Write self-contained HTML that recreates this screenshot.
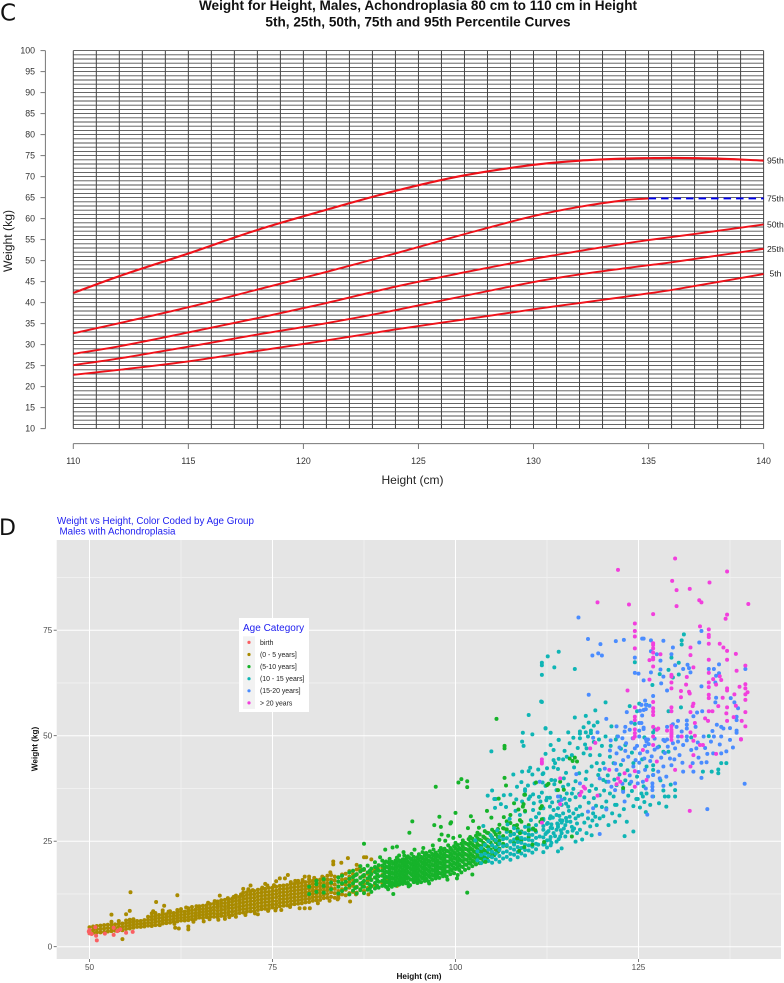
<!DOCTYPE html>
<html lang="en">
<head>
<meta charset="utf-8">
<title>Weight for Height Charts</title>
<style>
html,body{margin:0;padding:0;background:#fff;width:784px;height:983px;overflow:hidden}
svg{display:block;font-family:"Liberation Sans",sans-serif}
</style>
</head>
<body>
<svg id="figure" xmlns="http://www.w3.org/2000/svg" width="784" height="983" viewBox="0 0 784 983">
  <text x="0" y="20.5" font-family="DejaVu Sans" font-size="23" fill="#111">C</text>
  <text x="-1" y="535" font-family="DejaVu Sans" font-size="22" fill="#111">D</text>
  <text x="418" y="10" text-anchor="middle" font-weight="bold" font-size="13.6" fill="#111">Weight for Height, Males, Achondroplasia 80 cm to 110 cm in Height</text>
  <text x="418" y="26.5" text-anchor="middle" font-weight="bold" font-size="13.6" fill="#111">5th, 25th, 50th, 75th and 95th Percentile Curves</text>
  <text transform="translate(12,241) rotate(-90)" text-anchor="middle" font-size="12.2" fill="#222">Weight (kg)</text>
  <text x="412.5" y="484" text-anchor="middle" font-size="12" fill="#222">Height (cm)</text>
  <g id="chartC"></g>
  <text x="57" y="524" font-size="9.8" fill="#2020f0">Weight vs Height, Color Coded by Age Group</text>
  <text x="59.5" y="534.5" font-size="9.8" fill="#2020f0">Males with Achondroplasia</text>
  <g id="chartD"></g>
  <text x="419" y="979" text-anchor="middle" font-weight="bold" font-size="8.2" fill="#111">Height (cm)</text>
  <text transform="translate(37.5,749) rotate(-90)" text-anchor="middle" font-weight="bold" font-size="8.2" fill="#111">Weight (kg)</text>
</svg>
<script>
/* ---------- Chart C data ---------- */
var curveHeights = [110,112,115,118,121,124,127,130,132,134,135,136,138,140];
var p95 = [42.3,46.3,51.7,57.3,62.1,66.6,70.3,72.8,73.8,74.3,74.4,74.45,74.3,73.8];
var p75 = [32.7,35.1,38.9,43.1,47.3,51.7,56.3,60.6,62.8,64.4,64.8];
var p50 = [27.8,29.6,32.9,36.3,39.9,43.8,47.2,50.4,52.3,54.1,54.9,55.6,57.1,58.6];
var p25 = [25.1,26.7,29.5,32.4,35.1,38.2,41.6,44.9,46.7,48.2,48.9,49.6,51.2,52.8];
var p5  = [22.8,24.0,26.0,28.5,31.0,33.6,36.0,38.4,39.9,41.4,42.2,43.0,44.9,46.8];
var p75ExtensionHeights = [135,140];
var p75ExtensionValues = [64.8,64.8];
var curveLabels = ["95th","75th","50th","25th","5th"];
var curveLabelValues = [73.8,64.8,58.6,52.8,46.8];
var cXTicks = [110,115,120,125,130,135,140];
var cYTicks = [10,15,20,25,30,35,40,45,50,55,60,65,70,75,80,85,90,95,100];

/* ---------- Chart D data: [height, weight] pairs, columns are [height, weight, weight, ...] ---------- */
var dXTicks = [50,75,100,125];
var dYTicks = [0,25,50,75];
var dXMinor = [62.5,87.5,112.5,137.5];
var dYMinor = [12.5,37.5,62.5,87.5];
var legendLabels = ["birth","(0 - 5 years]","(5-10 years]","(10 - 15 years]","(15-20 years]","> 20 years"];

var brownColumns = [
[50,3.2,3.9,4.6],[50.5,3.3,4,4.8],[51,3.4,4.1,4.9],[51.5,3.4,4.2,5],[52,3.5,4.3,5.1],[52.5,3.6,4.4,5.2],[53,3.7,4.4,5.2,5.9],[53.5,3.8,4.5,5.3],
[54,3.9,4.7,5.4,6.1],[54.5,3.9,4.7,5.5],[55,4.2,4.9,5.6,6.2],[55.5,4.3,5,5.7,6.4],[56,4.5,5.2,5.9,6.5],[56.5,4.7,5.4,6.1],[57,4.7,5.4,6.1],[57.5,4.8,5.5,6.3],
[58,5,5.7,6.4,7.1],[58.5,4.9,5.6,6.4,7.1,7.9],[59,5.1,5.9,6.6,7.3,8],[59.5,5.2,6,6.8,7.5],[60,5.5,6.2,6.9,7.6,8.1],[60.5,5.6,6.3,7,7.7],[61,5.7,6.4,7.2,7.9,8.4],[61.5,5.9,6.6,7.3,8],
[62,6,6.7,7.4,8.1,8.7],[62.5,6.2,6.9,7.6,8.3,8.9],[63,6.2,6.9,7.6,8.3],[63.5,6.3,7,7.8,8.5,9.1],[64,6.5,7.2,7.9,8.6,9.4],[64.5,6.6,7.3,8,8.8],[65,6.9,7.6,8.3,9,9.6],[65.5,6.8,7.5,8.2,8.9,9.7],
[66,7,7.7,8.4,9.1,9.8],[66.5,7.1,7.8,8.5,9.2,10.1],[67,7.1,7.9,8.7,9.4,10.2],[67.5,7,7.7,8.5,9.3,10,10.7],[68,7.3,8,8.8,9.6,10.3,11],[68.5,7.2,8,8.8,9.5,10.3,11.1],
[69,7.6,8.3,9.1,9.8,10.5,11.2],[69.5,7.5,8.3,9.1,9.9,10.7,11.4],[70,7.8,8.5,9.3,10,10.8,11.5,12.1],[70.5,8,8.8,9.5,10.3,11,11.8],[71,8.1,8.9,9.7,10.5,11.3,12,12.8],[71.5,8.3,9,9.8,10.6,11.4,12.2,12.9],
[72,8.4,9.2,10,10.8,11.6,12.4,13.1],[72.5,8.4,9.2,10,10.8,11.6,12.4,13.2],[73,8.7,9.5,10.3,11.1,11.9,12.7,13.5],[73.5,8.9,9.6,10.4,11.2,12,12.8,13.6],[74,9,9.8,10.6,11.4,12.2,13,13.7],[74.5,9,9.8,10.6,11.4,12.2,13,13.9],
[75,9.3,10,10.8,11.6,12.4,13.2,14],[75.5,9.2,10,10.8,11.7,12.5,13.3,14.2],[76,9.6,10.4,11.2,12,12.8,13.6,14.4],[76.5,9.7,10.5,11.3,12.1,12.9,13.7,14.5],[77,9.8,10.6,11.4,12.2,13,13.8,14.6],[77.5,10,10.8,11.6,12.4,13.2,14,14.8,15.3],
[78,10.1,10.9,11.7,12.5,13.3,14.1,14.9],[78.5,10.2,11,11.8,12.6,13.4,14.2,15,15.6],[79,10.3,11.1,11.9,12.7,13.5,14.3,15.1],[79.5,10.5,11.3,12.1,12.9,13.7,14.5,15.3],[80,10.6,11.4,12.2,13,13.8,14.6,15.4,16],
[80.5,10.9,11.7,12.5,13.3,14.1,14.9,15.6],[81,11,11.8,12.6,13.4,14.2,15,15.8],[81.5,11.1,11.9,12.7,13.5,14.3,15.1,15.9],[82,11.5,12.3,13.1,13.9,14.7,15.5,16.3],[82.5,11.6,12.5,13.4,14.2,15,15.9,16.8],
[83,11.8,12.9,13.9,14.9,15.9,17],[83.5,11.6,12.7,13.7,14.7,15.7,16.6],[84,12.1,13.2,14.3,15.4,16.5],[84.5,12.4,13.6,14.8,15.9,17.1],[85,12.2,13.5,14.7,16,17.3],[85.5,12.7,14,15.3,16.6,17.9],
[86,13,14.4,15.8,17.2],[86.5,12.8,14.2,15.6,17.1,18.3],[87,13.6,15,16.4,17.8],[87.5,13.2,14.9,16.6,18.2],[88,13.9,15.6,17.3],[88.5,14.3,15.9,17.7],[89,14.6,16.4,18.2],[90,15.1,17,18.7],[91,15.6,17.6]
];
var brownOutliers = [
[55.6,12.9],[62,12.2],[59.1,10.6],[60.2,9.7],[55.5,8.5],[53,7.6],[55,7.7],[54.5,1.8],[60,8.6],[61.7,4.5],[62.2,4.3],[63.5,4.8],[63.5,4.1],[65.6,6],
[67.8,12.1],[72,14.5],[71,13.7],[71.7,13.6],[74,14.9],[74.3,14.5],[77.1,17],[76.7,16.2],[76,16.2],[75.5,15.5],[78.3,15.4],[73,7.7],[76.2,8.7],[70,7.1],[68.5,6.6],
[83.3,20.2],[83.3,19.5],[84.4,19.9],[85.3,21],[87.5,21.2],[87.8,21.2],[88.5,20.7],[86.5,19.4],[86.9,18.6],[88.3,17.8],[89.4,18.6],[90.6,15.8],[92,14.4],[93.3,16.4],
[88.1,12.4],[86.4,12.4],[82.9,17.6],[79.4,16.6],[80,16.6],[79.4,9.1],[80.1,9.1],[78.7,9.1],[84,11.5],[85.6,10.7],
[58.7,8.4],[60.8,8.3],[63.2,9.3],[64.6,9.6],[66.2,10.4],[67.1,10.8],[68.9,11.5],[69.7,11.8],[70.7,12.4],[72.3,13.4],[73.6,14],[75.2,14.6],[78.1,15.6],[79.1,15.8],[80.7,16.3],[81.8,16.6],
[59.6,5.1],[61.6,5.4],[64.2,5.9],[66.4,6.5],[67.6,6.4],[69.1,7],[71.3,7.5],[72.6,7.9],[74.4,8.5],[75.4,8.6],[77.4,9.4],[81.2,10.3],[82.8,10.9],[83.9,11.2]
];
var birthPoints = [[50,4],[50,3.2],[49.9,3.6],[50.8,4.6],[50.3,3],[50.9,2.6],[51,1.5],[52.1,3.1],[53.3,4.5],[53.3,2.8],[53.8,3.7],[54.2,4.1],[55,3.3],[55.9,3.5]];

var greenColumns = [
[80,12.5,14.2],[81,13,14.8,15.6],[82,12.8,14.4,16],[83,13.6,15.2],[84,12.6,14.2,15.4,16.4],[84.5,13.2,15,16.8],[85,13.8,15.4],[85.5,12.4,14.5,16.1,17.6],[86,13.3,15,16.5,18],[86.5,12.6,14.1,15.7,17.2],
[87,13.4,14.9,16.3,17.9,19.1],[87.5,12.7,14.2,15.6,17,18.4],[88,13.5,15,16.2,17.6,19.2],[88.5,13,14.4,15.8,17.2,18.5],[89,13.8,15.1,16.4,17.7,18.9,20],[89.5,14,15.4,16.7,18,19.3],
[90,14.4,15.6,16.8,18,19.2,20.4],[90.5,14.2,15.4,16.6,17.8,19,20.2],[91,14.6,15.8,17,18.2,19.4,20.8],[91.5,14.9,16.1,17.3,18.5,19.7],[92,15.1,16.3,17.5,18.7,19.9,21.1],[92.5,15.3,16.5,17.7,18.9,20.1],
[93,15.5,16.7,17.9,19.1,20.3,21.6],[93.5,15.2,16.5,17.8,19,20.2,21.4],[94,15.9,17,18.2,19.4,20.6,22],[94.5,15.7,16.9,18.1,19.3,20.5],[95,15.8,17,18.2,19.4,20.6,21.9],[95.5,16.2,17.4,18.6,19.8,21,22.4],
[96,16.1,17.3,18.5,19.7,20.9,22.2],[96.5,16.5,17.7,18.9,20.1,21.3,22.6],[97,16.8,18,19.2,20.4,21.6,23],[97.5,16.9,18.1,19.3,20.5,21.8],[98,17.3,18.5,19.7,20.9,22.1,23.4],[98.5,17.2,18.4,19.6,20.8,22,23.2],
[99,17.8,19,20.2,21.4,22.6,24],[99.5,18.1,19.3,20.5,21.7,22.9],[100,18.4,19.6,20.8,22,23.3,24.6],[100.5,18.2,19.5,20.8,22.1,23.4],[101,18.9,20.1,21.3,22.5,23.8,25.2],[101.5,19.4,20.6,21.8,23.1,24.4],
[102,19.7,20.9,22.1,23.4,24.7,26],[102.5,20.1,21.3,22.6,23.9,25.2],[103,20.4,21.7,23,24.3,25.7,27],[103.5,20.9,22.4,23.8,25.2],[104,21.1,22.7,24.3,25.8,27.4],[104.5,21.9,23.6,25.2,26.9],
[105,22.3,24.1,25.9,27.7],[105.5,23,24.8,26.6],[106,23.2,25.1,27,28.9],[106.5,24.4,26.2,28.1],[107,23.9,25.7,27.6,29.7],[107.5,25,27.2,29.3],[108,24.6,26.7,28.6],[108.5,25.5,27.9],[109,25.1,27.3,29.6],[110,26,28.8]
];
var greenStaggerColumns = [
[86.3,13.9,15.6,16.9],[87.3,14.2,15.2,16.7,18.2],[88.3,13.8,14.7,16.6,18],[89.3,14.4,15.8,17.1,18.4],[90.3,14.9,16.1,17.4,18.6,19.8],[90.8,13.6,15.2,16.4,17.6,18.8,20],[91.3,14.2,15.2,16.4,17.6,18.8,20.1],[91.8,14.5,15.6,16.8,18,19.2,20.4],
[92.3,14.7,15.8,17,18.1,19.3,20.5,21.6],[92.8,14.9,16,17.2,18.3,19.6,20.7],[93.3,15,16.1,17.3,18.5,19.7,20.9],[93.8,14.6,16,17.4,18.6,19.8,21],[94.3,15.3,16.4,17.6,18.8,20,21.3],[94.8,15.1,16.3,17.5,18.7,19.9,21.2],
[95.3,15.3,16.6,17.8,19,20.2,21.3],[95.8,15.6,16.8,18,19.2,20.4,21.7],[96.3,15.5,16.9,18.1,19.3,20.4,21.6],[96.8,15.9,17.1,18.3,19.5,20.8,22],[97.3,16.2,17.4,18.6,19.9,21.1,22.3],[97.8,16.3,17.5,18.8,20,21.3,22.7],
[98.3,16.7,17.9,19.1,20.3,21.5,22.8],[98.8,16.6,17.8,19,20.2,21.5,22.7],[99.3,17.2,18.4,19.6,20.9,22.1,23.4],[99.8,17.4,18.7,19.9,21.1,22.4,23.8],[100.3,17,18.9,20.2,21.5,22.8,24.1],[100.8,17.6,19,20.4,21.7,23,24.4],
[101.3,18.2,19.5,20.7,22,23.2,24.6],[101.8,18.6,20,21.4,22.7,24.1,25.5],[102.3,19.1,20.4,21.7,23,24.3,25.6],[102.8,19.5,20.9,22.3,23.6,25,26.3],[103.3,19.8,21.2,22.6,23.9,25.3,26.6],[103.8,20.2,21.6,23.1,24.6,26.1],
[104.3,20.8,22.3,23.8,25.4,27],[104.8,21.4,23,24.7,26.4],[105.3,21.7,23.5,25.3,27.2],[105.8,22.5,24.2,26,27.9]
];
var greenOutliers = [
[105.6,54],[106.7,47.6],[106.7,47],[100.8,39.7],[100.4,38.9],[101.6,39.2],[101.6,37.8],[97.3,37.9],[106.7,40],[106.9,38.2],[111,38.9],[112.7,38.6],[112.5,38.3],[109.5,36],[114,37.1],[105.9,35.1],
[87.5,24.4],[94.1,29.7],[93.7,27],[90.4,23],[91.4,23.5],[92,23.7],[100,31.7],[99.3,29.2],[99.4,29.5],[97.8,30.8],[98,28.4],[97.1,28.8],[102.1,30.9],[102.4,29.8],[101.7,28.1],
[98.1,26.6],[99,26.3],[99.7,25.8],[97.8,25.3],[104.3,32.2],[104.9,30.6],[108,34],[109.4,36],[108.6,32.5],[101.6,12.8],[91.5,12.5],[100.2,16.2],[102.3,17.1],
[115.6,44.6],[116,44],[116.3,44.8],[116.6,43.9],[111.6,32.8],[111.8,33.3],[109.3,33.8],[109.2,33.2],[109.5,32.2],[107.5,31.2],[106.6,30.7],[111.8,30.2],[111.6,29.6],[108.8,30],[108.4,28.8],[107,27.8],
[106.6,28],[108.8,26.9],[108.4,25.7],[110.6,28],[110.9,27.6],[110,27.6],[115.9,26.1],[114.3,39.1],[122.9,37.6],[114.8,37.2],[112.1,24.8],[110.5,24.2],[109.4,23.6],[108.7,22.7],
[95.6,23.4],[96.9,24],[92.9,22.4],[89.7,21.2],[94.4,23],[98.6,25.1],[100.6,26.2],[103.2,28.2],[90.7,14],[93.6,14.3],[96.4,15],[98.9,15.9],[104.1,20.1]
];

var tealColumns = [
[103,20.5,22.6],[103.5,19.8,21.7,23.4],[104,20.6,22,24.1],[104.5,20.3,21.6,23,25],[105,19.9,21.2,22.5,24,25.7],[105.5,20.7,22.1,23.6,25.2],[106,20.1,21.5,22.9,24.4,26],[106.5,20.9,22.3,23.8,25.5],
[107,21.3,22.6,24.1,25.7,27.2],[107.5,20.6,22,23.4,24.9,26.4],[108,21.8,23,24.2,25.4,26.7,28.1],[108.5,21.2,22.4,23.6,24.8,26,27.4],[109,22.1,23.4,24.6,25.8,27.1],[109.5,21.6,22.9,24.2,25.5,26.9,28.4],
[110,22.8,24,25.3,26.6,28.2],[110.5,22.3,23.7,25.1,26.5,27.8],[111,23.1,24.4,25.8,27.2,28.8],[112,22.4,24.2,25.9,28.6,30.3],[112.5,23.5,25.2,27.1,29.1],[113,24,26,28.2,30.9],[114,22.6,28.9,32.8],[114.5,23.3,29.4,33.6]
];
var tealPoints = [
[131.2,74],[130.9,72.6],[130.9,71.6],[114.1,69.9],[112.6,68.8],[111.8,67.3],[111.8,66.7],[113.5,66.2],[116.3,65.8],[111.8,64.4],[124.5,67.4],[129.5,68.5],[130.5,67.3],[129.1,65.6],[127.9,64.6],[130.5,64.5],[129.7,63.8],[126.9,62],
[111.8,58],[120.5,57.9],[110,54.9],[119.1,56],[116.3,54.3],[117.8,54.7],[123.8,57],[125.1,57.6],[124.8,55.8],[129.1,55.8],[130.8,56.7],[126.1,57.3],[124.5,52.8],[112.3,51.8],[118.2,53.1],[119.4,53.2],[118.9,52.4],[117.5,52],
[109.2,50.7],[110.5,50.3],[113,50.7],[115.4,50.8],[117,51],[117,50.5],[117.8,50.8],[118.5,51.2],[118.5,50.6],[121.3,52.2],[127.2,51.5],[127,50.8],[116.1,49.5],[117,49.4],[114.1,49],[120.5,49.8],[121.9,49.1],[125.8,49.6],[132.2,49.6],[134.6,49.9],
[111.7,58.1],[112.3,51.7],[109.1,48.6],[109.3,47.6],[114.1,49],[113,47.8],[104.9,46.3],[112.3,45.7],[113.4,44.2],[113.6,43.5],[114.1,44.5],[110.2,42.4],[110,41.6],[109.1,41.5],[111.3,42],[113.4,42.5],[114,42.1],[107.9,40.8],[110.5,40.8],[111.9,40.9],
[109,39],[113.1,39.5],[113.6,39.4],[109.5,37.3],[109.5,36.9],[107.5,36],[105,37],[104.4,35.8],[105.3,35],[105.5,35],[111.8,36.5],[110.6,36.1],[110.2,35.6],[110,35],[111.4,35.5],[112.5,35.3],[112.9,35.3],[112.3,38.1],[113.5,38.5],
[117.5,45.8],[115.9,45.4],[115.2,45],[114.7,44.4],[112.5,42.3],[112,41.1],[119.7,41.9],[119.5,40.7],[120.2,39.5],[120.6,39.1],[117.9,41.5],[118.6,42.7],[119.3,43.5],[120.2,43.5],[121.6,43.5],[117.9,47],[118.4,45.4],[119.7,45.4],[121.1,45],
[113.8,37.1],[114.7,37.9],[115.2,36.3],[114.3,35.6],[115.9,36.3],[115.6,34.8],[114.1,34.4],[112.9,33.2],[112,32.8],[113.4,32.4],[115.4,33.2],[117,33.2],[116.1,31.6],[114.7,31.6],[113.8,31.2],[112.9,30.4],[112,30],[110.6,32.4],[109.5,32],[108.8,31.2],
[115.6,30.8],[116.6,29.2],[115.9,28.4],[115,28.8],[114.3,30],[113.8,27.7],[114.5,26.9],[113.4,26.9],[112,27.7],[111.5,26.1],[112.9,25.3],[113.8,24.9],[114.3,26.1],[117,27.7],[117.9,26.9],[119.1,30.8],[119.7,30.4],[120.9,28.8],[119.3,28.8],[118.1,30.4],[118.8,31.6],[120.6,32.8],[122,33.6],[123.1,26.2],[124.3,27.3],
[124.3,33.3],[124.7,35],[120.6,34.4],[121.8,33.6],[121.6,35.6],[119.7,35.9],[121.1,36.3],[122,38.3],[122.9,37.1],[125.4,36.3],[126.1,36.3],[124.9,35],[128.4,37],[129.1,35.6],[130,35.6],[130,37.1],[128.6,35.6],[125.6,35.6],[127,35.6],
[133.8,41.5],[135,41.5],[135.9,42],[136.3,43.5],[137,43.5],[135.9,41.1],[127,41.9],[127,40.7],[127,43],[124.3,43.5],[126.1,42.7],[128.4,46.2],
[115.1,33.9],[114.9,35.1],[116.4,35.4],[116.8,31],[115.2,29.7],[114.6,29.9],[116,27.5],[116.6,26.9],[113.1,29],[113.9,29.2],[111.4,31.6],[111,30.7],[110.3,30],[105.7,27.6],[107.1,29],[104.8,26.4],[103.8,28.6],[102.7,25.2],[111.3,24.2],
[112.3,26.7],[112.7,27.4],[113.2,28.1],[113.6,26.2],[114,28.4],[114.4,27.6],[114.8,28],[115.3,27.2],[115.7,29.6],[116.2,28],[116.4,30.4],[115,26.1],[114.1,25.5],[113.1,24.6],[112.2,24.3],[112.6,29.3],[113.3,30.6],[114.2,31],[115.1,30.5],[115.5,32.2],[116.5,32.6],[117.3,31.3],[117.6,29.4],[118.4,28.5],[118.7,29.9],[119.2,33.4],[118.2,34.1],[117.6,35.4],[116.9,36.2],[116.1,37.4],[115.4,38.4],[116.4,39.2],[117.8,39.7],[118.6,38.2],[119.2,37.4],[120.3,37],[120.8,40.6],[121.7,39.6],[122.4,40.8],[123.2,39.4],[123.8,38.6],[124.1,36.9],[123.6,35.8],[123,32.6],[122.4,31.1],[121.4,31.6],[120.2,30.9],[121.8,29.6],
[125.8,34.3],[126.6,33.6],[127.8,34],[128.8,33.2],[129.4,38.4],[128,39.4],[125.2,33],[126,31.9],[123.4,29.6],[121.2,47.6],[122.6,46.9],[123.2,47.8],[124.1,46],[125.5,44.4],[127.8,47.4],[129.1,46.2],[120,47.6],[118.9,48.5],[116.7,47.1],[115.6,48.2],[114.9,46.4],[113.4,46.6],[122.1,49.8],[119.6,49.1],[118.1,49.8],[117.7,47.9],
[109.9,38.2],[110.8,38.7],[111.9,38.9],[108.4,37.9],[106.6,35.9],[106.2,33.8],[105.4,32.9],[106.9,33.1],[108.3,34.9],[109.1,34.4],[110.7,34],[111.6,34.4],[112.4,34.7],[113.2,34.2],[107.4,30.3],[108.2,32.2],[115.1,41.2],[116.2,42.5],[116.9,41.1],[114.8,39.9],[118.3,36.9],[118.9,35.2],[120,33.1],[123.5,41.8],[124.8,40.3],[125.7,38],[122.6,43.1],[116.4,24.9],[117.3,25.4],[118.6,26.4]
];

var bluePoints = [
[116.8,78],[133.6,74.8],[118.1,72.9],[121.9,72.4],[123,72.7],[125.5,73],[125.7,73],[126.7,72.6],[128.4,72.5],[133.3,72.1],[119.8,71.7],[129.7,70.9],[119.5,69.5],[118.7,69],[120,69],[126.7,70],[127.5,69.3],[129.5,69.3],[124.5,68.5],[128,67.8],
[136,66.9],[130,66.7],[131.7,66.8],[128,65.7],[131.1,65.8],[131.9,66],[132.1,65],[134.6,65.8],[135.3,65.8],[139.6,65.8],[126.7,65],[124.5,64.9],[125,64.7],[136,64.8],[135.6,64.2],[128.4,64],[125.7,63.1],[128.1,62.4],[135.5,62.6],[133.6,61.7],[128.9,60.7],[127,59.4],[118.2,59.7],
[135.6,59],[125.9,58.3],[137.6,58.9],[135.5,57.9],[138.1,57.9],[125.4,57.3],[126,57.3],[126.5,57.1],[138.6,56.5],[126,56.3],[125.7,56.1],[125.2,55.9],[123.4,55.6],[133.7,55.8],[133,55.5],[125.5,54.8],[132.5,54.6],[120.6,54],[138.4,54.5],[138.4,53.7],
[125.1,53],[125.4,53],[130.4,53.5],[131.6,53.6],[131.6,52.6],[124,53.1],[135.7,52.6],[136.3,52.1],[136.6,51.7],[125.7,51.9],[125.7,51.6],[122,52.2],[123.2,52.1],[123.8,51.4],[123.1,51],[125.1,51.2],[129.5,52.4],[128.9,52.1],[129.7,52.7],[130.2,52.1],[131.6,51.7],[132.8,52.1],[119.4,50.8],[137.5,51.8],[138.4,51.2],[138.4,50.7],[130.9,51],[135.1,51.1],
[118.8,49.5],[122.2,49.8],[122.8,49.4],[124.2,49.4],[125.1,49.8],[126,49.2],[126.3,49.1],[127.2,49.3],[128.4,49],[128.9,49.1],[130.4,49.8],[131.6,49.8],[133.9,49.8],[135.3,49.8],[136.3,49.8],[137.5,49],
[139.5,38.6],[134.4,32.6],[126.2,31.3],[119.7,26.7],[136.3,45.8],[137.9,47.2],[135.2,45.8],[134.4,45.7],[133.6,43.6],[133.6,40],[132.5,41.5],[131.1,41.5],[130.6,45.4],[131.1,47.8],[132.2,46.6],[129.3,44.6],[129.5,43],[128.4,42.7],[127.7,41.5],[128.8,40.3],[130,38.7],[128.4,38.1],
[126.9,37.9],[126.9,37.1],[126.9,38.7],[126.9,35.6],[126.3,40.3],[127,40.7],[125.9,41.9],[125.6,39.1],[124.9,38.7],[124.3,42.7],[123.6,45],[122.9,44.2],[122,45.8],[121.1,46.5],[126.1,48.6],[125.2,45.8],[124.5,47],[126.4,48],[125.9,47.6],[121.8,43.4],[122,41.9],[119.7,39.9],[120.9,39.1],[121.8,37.1],[122.9,36.7],[121.3,37.9],
[114,35.6],[114.5,34.8],[117,38.7],[123.1,34.4],[120.6,32.5],[118.8,32.8],[118.1,32],[111.5,39.1],[116.5,40.9],[133.1,48.4],[134.1,47.1],[129,47.4],[127.6,47.2],[129.7,48.2],[130.4,48.6],[126.8,45.1],[128.1,44.8],[124.6,44.2],
[121.2,48.9],[123.3,48.2],[124.8,47.6],[126.2,46.2],[127.2,46.7],[128.6,48.7],[130,47],[131.6,48.9],[132.9,47],[134.9,48.6],[136.1,47.9],[137,46.3],[125.1,43.6],[125.8,44.6],[126.6,44],[128.6,45.9],[129.9,44.4],[131,43.6],[132.4,43.5],[133.2,44.8],[134.3,43.7],[123.2,46.4],[122.4,47.2],[120.4,42.2],[123.8,40.6],[125,41.4],[122.8,38.6],[124,39.1],[126,37.5],[127.9,39.9]
];

var magentaPoints = [
[130,92],[122.2,89.3],[137.1,88.9],[129.6,86.7],[134.7,86.3],[130.2,84.5],[132,84.8],[133.3,82.1],[133.6,81.6],[119.4,81.6],[123.7,81.1],[140,81.2],[130.2,80.7],[127,78.8],[137.1,78.7],[136.9,77.7],[124.5,76.6],[133.4,75.9],[124.5,74.8],[134.6,75.2],[134.6,73.9],[134.6,73.4],[124.5,73.5],
[127,71.9],[127,71.5],[134.6,71.8],[136.1,71.8],[136.6,70.9],[137.1,70.1],[124.5,70.7],[127,70.7],[132.1,70.9],[127,69.7],[128,69.3],[132.1,69.1],[138.3,69.4],[127,68.5],[127,68.1],[126.5,67.9],[137.1,68],[134.6,68],[139.6,66.6],[127,66.4],[132.5,66.2],[138.4,65.4],[134.6,64.9],
[136.1,64.1],[136.3,63.2],[129.5,64.4],[129.5,64],[131.6,63.9],[126.5,63.3],[135.2,63.4],[129.5,62.6],[134.6,62.6],[135.6,62.1],[131.5,62.1],[139.6,62.2],[139.6,61.2],[138.8,61.6],[134.6,61.5],[129.5,61.2],[123.5,60.7],[137.1,61.2],[137.1,60.7],[130.8,60.6],[131.9,60.4],[132,60],[139.9,60.3],[139.6,59.8],[138.1,59.8],[134.6,59.7],[134.6,58.9],[136.5,59],[130.8,59.1],[139.6,58.5],
[127,58],[132.5,57.6],[132.4,57],[135.9,57],[138.3,57.1],[127,56.5],[127,55.7],[127,54.9],[124.5,56.7],[129.5,56.7],[129.5,55.8],[137.1,56.7],[134.6,55.8],[135.1,55.8],[132.1,55.6],[139.6,55.6],[137,55.3],[134.1,54.1],[134.5,53.5],[124.5,54.5],[124.5,53.7],[137.1,53.5],[139.1,53.5],[138,54.4],[132.7,53],[139.6,52.2],[127,52.1],
[127.7,51.7],[127.5,51.4],[129.5,52.2],[129.5,51.4],[129.5,50.6],[129.5,49.8],[124.5,51.5],[124.5,50.6],[124.5,49.8],[128.9,51.2],[132.1,50.8],[132.7,50],[139,49.2],[130.9,49.8],
[129.5,50.9],[129.5,50.2],[129.5,49],[127,49.8],[127,47.8],[124.3,49.4],[119.1,48.3],[118.4,47],[132.5,48.8],[133.4,47.8],[133.8,47.8],[135.6,45.7],[132.5,45.4],[139,49.1],[111.8,44.4],[111.8,43.8],[111.8,43.4],[125.6,46.6],[127.5,43.9],[130,41.9],[132.1,42.7],[124.5,41.6],[123.1,41.1],[121,41.9],[114.3,39.9],
[122.2,39.9],[122.5,39.1],[122,38.5],[124.5,37.9],[126.1,39.5],[117.5,37.9],[117.2,36.7],[117,35.9],[117.7,37.5],[119.4,35.8],[132,32.2],[111.8,29.4],[114.3,33.8]
];

/* ---------- helpers ---------- */
var NS = "http://www.w3.org/2000/svg";
function mk(tag, attrs, parent, text) {
  var el = document.createElementNS(NS, tag);
  for (var k in attrs) el.setAttribute(k, attrs[k]);
  if (text !== undefined) el.textContent = text;
  parent.appendChild(el);
  return el;
}
function smoothPath(pts) {
  var n = pts.length, i, slopes = [];
  for (i = 0; i < n; i++) {
    var a = pts[Math.max(i - 1, 0)], b = pts[Math.min(i + 1, n - 1)];
    slopes.push((b[1] - a[1]) / (b[0] - a[0]));
  }
  var d = "M" + pts[0][0].toFixed(2) + " " + pts[0][1].toFixed(2);
  for (i = 0; i < n - 1; i++) {
    var dxx = (pts[i + 1][0] - pts[i][0]) / 3;
    d += "C" + (pts[i][0] + dxx).toFixed(2) + " " + (pts[i][1] + slopes[i] * dxx).toFixed(2) + " " +
         (pts[i + 1][0] - dxx).toFixed(2) + " " + (pts[i + 1][1] - slopes[i + 1] * dxx).toFixed(2) + " " +
         pts[i + 1][0].toFixed(2) + " " + pts[i + 1][1].toFixed(2);
  }
  return d;
}

/* ---------- Chart C ---------- */
(function () {
  var root = document.getElementById("chartC");
  function cx(h) { return 73.3 + (h - 110) * 23.01; }
  function cy(w) { return 428.6 - (w - 10) * 4.2; }
  var hMin = 110, hMax = 140, wMin = 10, wMax = 100, w, h, el;
  for (w = wMin; w <= wMax; w++) {
    el = mk("line", {x1: cx(hMin), x2: cx(hMax), y1: cy(w), y2: cy(w), stroke: "#505050", "stroke-width": 0.9}, root);
    
    
  }
  for (h = hMin; h <= hMax; h++) {
    el = mk("line", {x1: cx(h), x2: cx(h), y1: cy(wMin), y2: cy(wMax), stroke: "#444", "stroke-width": 1}, root);
    
    
  }
  el = mk("line", {x1: 45.4, x2: 45.4, y1: cy(10), y2: cy(100), stroke: "#777", "stroke-width": 1}, root);
  
  
  cYTicks.forEach(function (t) {
    var tick = mk("line", {x1: 40.5, x2: 45.4, y1: cy(t), y2: cy(t), stroke: "#777", "stroke-width": 1}, root);
    
    
    var lab = mk("text", {x: 35, y: cy(t) + 3, "text-anchor": "end", "font-size": 8.8, fill: "#333"}, root, String(t));
    
    
  });
  el = mk("line", {x1: cx(110), x2: cx(140), y1: 443.6, y2: 443.6, stroke: "#777", "stroke-width": 1}, root);
  
  
  cXTicks.forEach(function (t) {
    var tick = mk("line", {x1: cx(t), x2: cx(t), y1: 443.6, y2: 449, stroke: "#777", "stroke-width": 1}, root);
    
    
    var lab = mk("text", {x: cx(t), y: 464, "text-anchor": "middle", "font-size": 8.8, fill: "#333"}, root, String(t));
    
    
  });
  [p95, p75, p50, p25, p5].forEach(function (series, i) {
    var pts = series.map(function (v, j) { return [cx(curveHeights[j]), cy(v)]; });
    var curve = mk("path", {d: smoothPath(pts), fill: "none", stroke: "#ee1119", "stroke-width": i === 0 ? 2.1 : 1.9}, root);
    
    
    var lab = mk("text", {x: i === 4 ? 769.5 : 767, y: cy(curveLabelValues[i]) + (i === 4 ? 2.5 : 3), "font-size": 8.6, fill: "#222"}, root, curveLabels[i]);
    
    
  });
  el = mk("line", {x1: cx(p75ExtensionHeights[0]), x2: cx(p75ExtensionHeights[1]), y1: cy(p75ExtensionValues[0]), y2: cy(p75ExtensionValues[1]), stroke: "#0000ee", "stroke-width": 1.9, "stroke-dasharray": "7.5 5"}, root);
  
  
})();

/* ---------- Chart D ---------- */
(function () {
  var root = document.getElementById("chartD");
  function dx(h) { return 89.5 + (h - 50) * 7.32; }
  function dy(w) { return 946.7 - w * 4.22; }
  var panelLeft = 56.7, panelRight = 781, panelTop = 540, panelBottom = 959;
  var el = mk("rect", {x: panelLeft, y: panelTop, width: panelRight - panelLeft, height: panelBottom - panelTop, fill: "#e5e5e5"}, root);
  
  
  dXMinor.forEach(function (t) {
    var g = mk("line", {x1: dx(t), x2: dx(t), y1: panelTop, y2: panelBottom, stroke: "#f1f1f1", "stroke-width": 0.8}, root);
    
    
  });
  dYMinor.forEach(function (t) {
    var g = mk("line", {x1: panelLeft, x2: panelRight, y1: dy(t), y2: dy(t), stroke: "#f1f1f1", "stroke-width": 0.8}, root);
    
    
  });
  dXTicks.forEach(function (t) {
    var g = mk("line", {x1: dx(t), x2: dx(t), y1: panelTop, y2: panelBottom, stroke: "#fff", "stroke-width": 1}, root);
    
    
    var tick = mk("line", {x1: dx(t), x2: dx(t), y1: panelBottom, y2: panelBottom + 3, stroke: "#555", "stroke-width": 0.8}, root);
    
    
    var lab = mk("text", {x: dx(t), y: 969.8, "text-anchor": "middle", "font-size": 8.2, fill: "#4d4d4d"}, root, String(t));
    
    
  });
  dYTicks.forEach(function (t) {
    var g = mk("line", {x1: panelLeft, x2: panelRight, y1: dy(t), y2: dy(t), stroke: "#fff", "stroke-width": 1}, root);
    
    
    var tick = mk("line", {x1: panelLeft - 3, x2: panelLeft, y1: dy(t), y2: dy(t), stroke: "#555", "stroke-width": 0.8}, root);
    
    
    var lab = mk("text", {x: panelLeft - 4.5, y: dy(t) + 2.9, "text-anchor": "end", "font-size": 8.2, fill: "#4d4d4d"}, root, String(t));
    
    
  });
  var colors = {birth: "#fa5f62", infant: "#a98b00", child: "#16b32a", teen: "#0fb5b5", youth: "#4a8cff", adult: "#f23fdd"};
  function dot(h, w, col, name) {
    var c = mk("circle", {cx: dx(h), cy: dy(w), r: 2, fill: col}, root);
    
    
  }
  function drawColumns(cols, col, name) {
    cols.forEach(function (c) { c.slice(1).forEach(function (w) { dot(c[0], w, col, name); }); });
  }
  function drawPairs(pairs, col, name) {
    pairs.forEach(function (p) { dot(p[0], p[1], col, name); });
  }
  drawColumns(brownColumns, colors.infant, "point-0-5-years");
  drawPairs(brownOutliers, colors.infant, "point-0-5-years");
  drawPairs(birthPoints, colors.birth, "point-birth");
  drawColumns(greenColumns, colors.child, "point-5-10-years");
  drawColumns(greenStaggerColumns, colors.child, "point-5-10-years");
  drawColumns(tealColumns, colors.teen, "point-10-15-years");
  drawPairs(tealPoints, colors.teen, "point-10-15-years");
  drawPairs(greenOutliers, colors.child, "point-5-10-years");
  drawPairs(bluePoints, colors.youth, "point-15-20-years");
  drawPairs(magentaPoints, colors.adult, "point-over-20-years");

  /* legend */
  var legend = mk("g", {}, root);
  
  
  el = mk("rect", {x: 239, y: 618, width: 70, height: 94, fill: "#fff"}, legend);
  
  
  el = mk("text", {x: 243, y: 631, "font-size": 10, fill: "#2020f0"}, legend, "Age Category");
  
  
  el = mk("rect", {x: 243, y: 636.3, width: 12, height: 72.6, fill: "#f2f2f2"}, legend);
  
  
  var keyColors = [colors.birth, colors.infant, colors.child, colors.teen, colors.youth, colors.adult];
  legendLabels.forEach(function (label, i) {
    var rowY = 642.4 + i * 12.1;
    var k = mk("circle", {cx: 249, cy: rowY, r: 1.6, fill: keyColors[i]}, legend);
    
    
    var t = mk("text", {x: 260, y: rowY + 2.4, "font-size": 6.9, fill: "#222"}, legend, label);
    
    
  });
})();
</script>
</body>
</html>
